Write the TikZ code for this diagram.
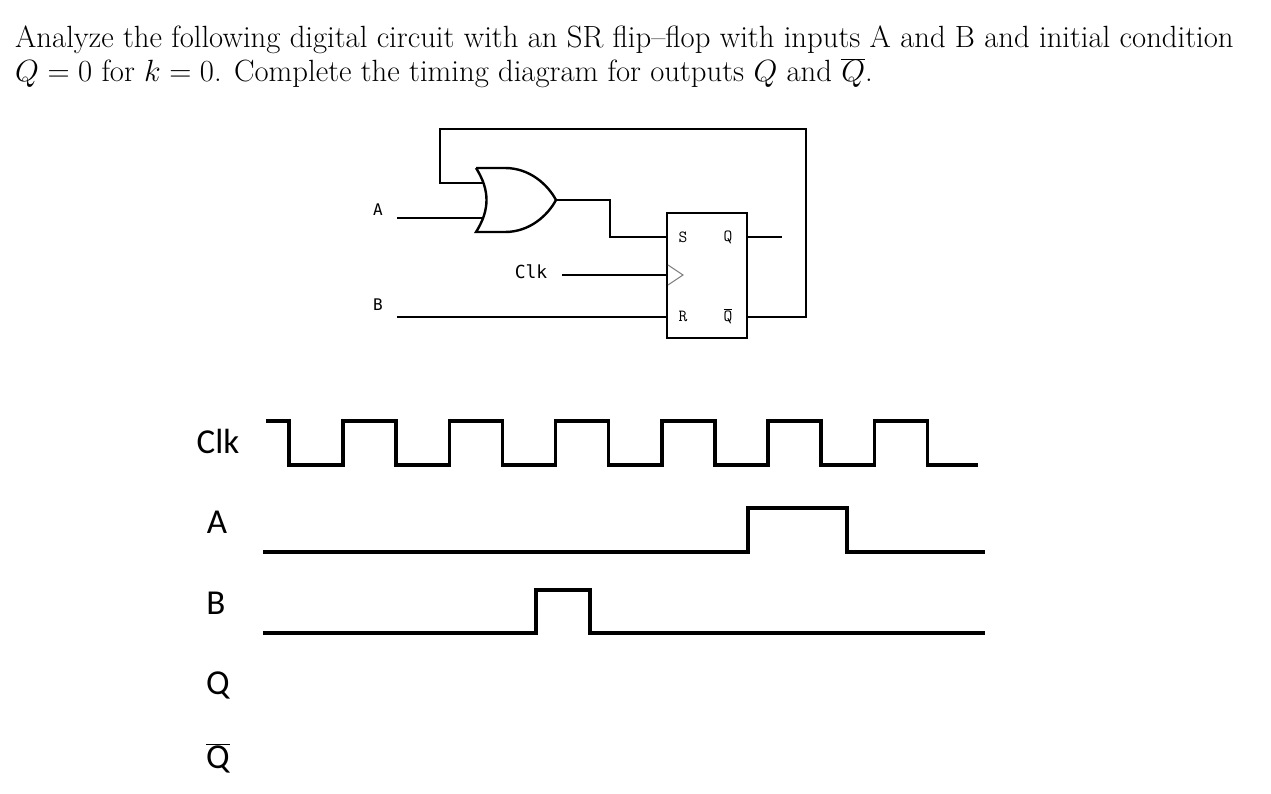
\RequirePackage{fix-cm}
\documentclass[tikz,border=0pt]{standalone}
\usepackage{fontspec}
\newfontfamily\calfont{Carlito}
\newfontfamily\monofnt{DejaVu Sans Mono}
\begin{document}
\begin{tikzpicture}[x=1pt,y=-1pt,
  wire/.style={line width=2.4pt},
  sig/.style={line width=3.5pt,line join=miter},
  tlab/.style={font=\calfont\fontsize{35}{35}\selectfont},
  clab/.style={font=\monofnt\fontsize{16}{16}\selectfont},
  ffl/.style={font=\fontsize{17}{17}\selectfont\ttfamily}]
\useasboundingbox (0,0) rectangle (1271,794);
\node[anchor=base west,inner sep=0,font=\fontsize{30.7}{34}\selectfont] (t1) at (15,48) {Analyze the following digital circuit with an SR flip--flop with inputs A and B and initial condition};
\node[anchor=base west,inner sep=0,font=\fontsize{30.7}{34}\selectfont] (t2) at (15,82) {$Q=0$ for $k=0$. Complete the timing diagram for outputs $Q$ and $\overline{Q}$.};
% circuit
\node[draw,line width=2.4pt,minimum width=80pt,minimum height=125pt,inner sep=0] (ff) at (707,275.5) {};
\draw[gray,line width=1pt] (668,265) -- (683,275) -- (668,285);
\node[ffl] (s) at (683,237) {S};
\node[ffl] (q) at (728,237) {Q};
\node[ffl] (r) at (683,316) {R};
\node[ffl] (qb) at (728,316) {$\mathtt{\overline{Q}}$};
\draw[wire] (476,168) -- (505,168) .. controls (530,168) and (548,185) .. (556,200) .. controls (548,215) and (530,232) .. (505,232) -- (476,232) .. controls (490,210) and (490,190) .. (476,168);
\coordinate (ort) at (556,200);
\coordinate (oa) at (483,218);
\coordinate (ob) at (483,183);
\node[clab] (la) at (378,210) {A};
\node[clab] (lb) at (378,305) {B};
\node[clab,font=\monofnt\fontsize{18}{18}\selectfont] (lc) at (531,272) {Clk};
\coordinate (ai) at (397,218);
\coordinate (bi) at (397,317);
\coordinate (ci) at (562,275);
\draw[wire] (ai) -- (oa);
\draw[wire] (bi) -- (667,317);
\draw[wire] (ci) -- (667,275);
\draw[wire] (ort) -- (610,200) -- (610,237) -- (667,237);
\draw[wire] (747,237) -- (782,237);
\draw[wire] (747,317) -- (806,317) -- (806,129) -- (440,129) -- (440,183) -- (ob);
% timing
\node[tlab] (lclk) at (218,441) {Clk};
\node[tlab] (lA) at (217,522) {A};
\node[tlab] (lB) at (216,603) {B};
\node[tlab] (lQ) at (218,685) {Q};
\node[tlab] (lQb) at (218,758) {$\overline{\hbox{Q}}$};
\draw[sig] (266,421) -- (289,421) -- (289,465)
  \foreach \i in {0,...,5} { -- ({343+106.3*\i},465) -- ({343+106.3*\i},421) -- ({396+106.3*\i},421) -- ({396+106.3*\i},465) }
  -- (978,465);
\draw[sig] (263,552) -- (748,552) -- (748,508) -- (847,508) -- (847,552) -- (985,552);
\draw[sig] (263,633) -- (536,633) -- (536,590) -- (590,590) -- (590,633) -- (985,633);
\end{tikzpicture}
\end{document}
